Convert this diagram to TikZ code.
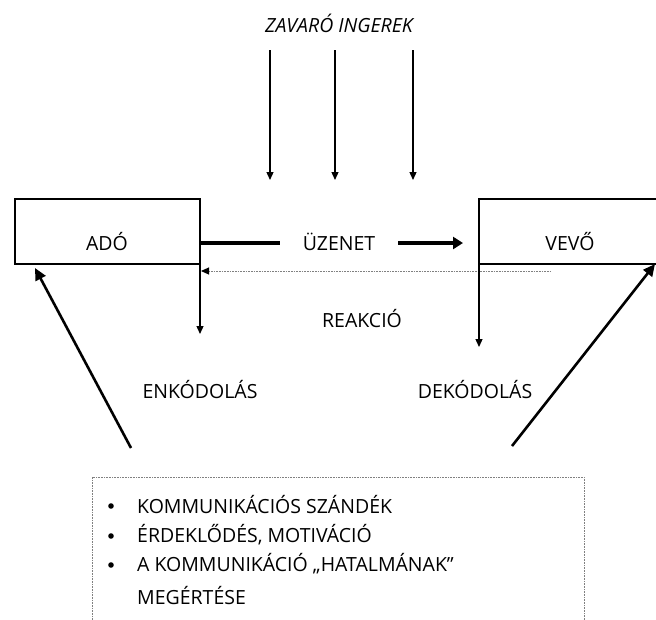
\documentclass[tikz,border=0pt]{standalone}
\usepackage{fontspec}
\setmainfont{Open Sans}
\usetikzlibrary{arrows.meta}
\begin{document}
\begin{tikzpicture}[x=1pt,y=-1pt,
  lbl/.style={font=\fontsize{19.5}{22}\selectfont, inner sep=0pt},
  thin arrow/.style={line width=1.3pt, -{Triangle[length=8pt,width=7pt]}},
  thick arrow/.style={line width=3.2pt, -{Triangle[length=10pt,width=12pt]}},
  boxline/.style={line width=1.3pt}]
\useasboundingbox (0,0) rectangle (656,619);
% boxes
\draw[boxline] (15,199) rectangle (200,264);
\node[lbl] (ado) at (107,242) {ADÓ};
\draw[boxline] (660,199) -- (479,199) -- (479,264) -- (660,264);
\node[lbl] (vevo) at (570,242) {VEVŐ};
\coordinate (adoR) at (200,243);
% üzenet
\node[lbl] (uzenet) at (339,242) {ÜZENET};
\draw[line width=3.2pt] (adoR) -- (280,243);
\coordinate (uzs) at (398,243);
\draw[thick arrow] (uzs) -- (463,243);
% reakció
\coordinate (rs) at (551,271);
\coordinate (re) at (201,271);
\draw[line width=1pt, gray, dash pattern=on 1pt off 0.6pt, -{Triangle[length=8pt,width=7pt,fill=black,color=black]}] (rs) -- (re);
\node[lbl] (reak) at (362,319) {REAKCIÓ};
% verticals
\coordinate (a1) at (200,264);
\coordinate (a2) at (200,334);
\draw[thin arrow] (a1) -- (a2);
\coordinate (b1) at (479,264);
\coordinate (b2) at (479,347);
\draw[thin arrow] (b1) -- (b2);
\node[lbl] (enk) at (200,390) {ENKÓDOLÁS};
\node[lbl] (dek) at (475,390) {DEKÓDOLÁS};
% zavaró
\node[lbl, font=\fontsize{19.5}{22}\selectfont\itshape] (zav) at (339,23) {ZAVARÓ INGEREK};
\foreach \x/\n in {270/z1,335/z2,413/z3}{
  \coordinate (\n s) at (\x,50);
  \coordinate (\n e) at (\x,180);
  \draw[thin arrow] (\n s) -- (\n e);
}
% diagonals
\coordinate (d1) at (131,448);
\coordinate (d2) at (35,268);
\draw[line width=2.6pt, -{Triangle[length=12pt,width=11pt]}] (d1) -- (d2);
\coordinate (e1) at (512,446);
\coordinate (e2) at (655,264);
\draw[line width=2.6pt, -{Triangle[length=12pt,width=11pt]}] (e1) -- (e2);
% bottom box
\draw[gray, line width=1pt, dash pattern=on 1pt off 0.6pt] (92,625) -- (92,477) -- (584,477) -- (584,625);
\node[lbl, anchor=west] (l1) at (137,505) {KOMMUNIKÁCIÓS SZÁNDÉK};
\node[lbl, anchor=west] (l2) at (137,535) {ÉRDEKLŐDÉS, MOTIVÁCIÓ};
\node[lbl, anchor=west] (l3) at (137,564) {A KOMMUNIKÁCIÓ „HATALMÁNAK”};
\node[lbl, anchor=west] (l4) at (137,596) {MEGÉRTÉSE};
\foreach \y in {506,536,565}{\fill (111,\y) circle (2.8pt);}
\end{tikzpicture}
\end{document}
